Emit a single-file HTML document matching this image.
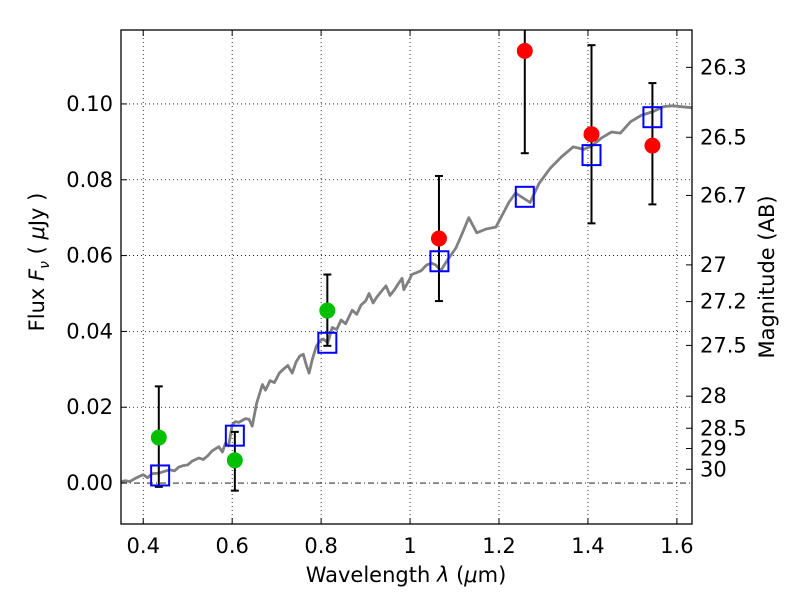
<!DOCTYPE html>
<html><head><meta charset="utf-8">
<style>
body{margin:0;background:#fff;}
svg{display:block;font-family:"DejaVu Sans","Liberation Sans",sans-serif;}
</style></head>
<body>
<svg id="chart" width="800" height="600" viewBox="0 0 800 600" xmlns="http://www.w3.org/2000/svg">
<defs><clipPath id="pc"><rect x="121" y="30" width="571" height="494"/></clipPath></defs>
<rect width="800" height="600" fill="#fff"/>
<g id="grid"></g>
<g id="spec" clip-path="url(#pc)"></g>
<g id="marks" clip-path="url(#pc)"></g>
<rect x="121" y="30" width="571" height="494" fill="none" stroke="#000" stroke-width="1.3"/>
<g id="ticks"></g>
<text x="406" y="582" font-size="21" text-anchor="middle">Wavelength  <tspan font-style="italic">λ</tspan> (<tspan font-style="italic">μ</tspan>m)</text>
<text transform="translate(44,262) rotate(-90)" font-size="21" text-anchor="middle">Flux  <tspan font-style="italic">F<tspan font-size="14" dy="5">ν</tspan></tspan><tspan dy="-5">  (  <tspan font-style="italic">μ</tspan>Jy )</tspan></text>
<text transform="translate(774,277) rotate(-90)" font-size="21" text-anchor="middle">Magnitude (AB)</text>
</svg>
<script>
const xTicks=[0.4,0.6,0.8,1.0,1.2,1.4,1.6];
const xTickLabels=["0.4","0.6","0.8","1","1.2","1.4","1.6"];
const yTicks=[0,0.02,0.04,0.06,0.08,0.10];
const yTickLabels=["0.00","0.02","0.04","0.06","0.08","0.10"];
const magTicks=[26.3,26.5,26.7,27,27.2,27.5,28,28.5,29,30];
const magLabels=["26.3","26.5","26.7","27","27.2","27.5","28","28.5","29","30"];
const obsWave=[0.435,0.606,0.814,1.065,1.258,1.408,1.545];
const obsFlux=[0.012,0.006,0.0455,0.0645,0.114,0.092,0.089];
const obsHi=[0.0255,0.0135,0.055,0.081,0.14,0.1155,0.1055];
const obsLo=[-0.001,-0.002,0.0362,0.048,0.087,0.0685,0.0735];
const obsColor=["#00c000","#00c000","#00c000","#ff0000","#ff0000","#ff0000","#ff0000"];
const modelWave=[0.438,0.606,0.814,1.066,1.258,1.408,1.545];
const modelFlux=[0.002,0.0125,0.037,0.0585,0.0755,0.0865,0.0965];
const specWave=[0.347,0.36,0.37,0.38,0.39,0.4,0.41,0.42,0.435,0.445,0.46,0.47,0.48,0.49,0.5,0.51,0.525,0.535,0.545,0.555,0.57,0.578,0.585,0.592,0.6,0.607,0.615,0.63,0.638,0.645,0.655,0.668,0.675,0.685,0.695,0.706,0.715,0.725,0.735,0.744,0.752,0.76,0.767,0.773,0.78,0.789,0.797,0.805,0.815,0.825,0.835,0.845,0.855,0.87,0.88,0.89,0.9,0.908,0.917,0.925,0.935,0.946,0.955,0.965,0.973,0.982,0.986,1.0,1.004,1.015,1.025,1.037,1.049,1.058,1.069,1.085,1.103,1.118,1.132,1.15,1.171,1.193,1.222,1.237,1.27,1.29,1.315,1.34,1.367,1.39,1.41,1.43,1.453,1.473,1.496,1.52,1.547,1.57,1.59,1.634];
const specFlux=[0.0003,0.0006,0.0004,0.0011,0.0017,0.0022,0.0014,0.0025,0.0026,0.003,0.0035,0.0032,0.0042,0.0046,0.0048,0.0058,0.0066,0.0062,0.0072,0.0085,0.0096,0.0082,0.0105,0.0098,0.0153,0.0162,0.016,0.017,0.0168,0.015,0.021,0.026,0.0245,0.027,0.0265,0.029,0.030,0.031,0.029,0.032,0.0335,0.034,0.031,0.029,0.0325,0.036,0.0375,0.038,0.037,0.041,0.0405,0.043,0.042,0.0456,0.0445,0.047,0.048,0.050,0.0475,0.049,0.0505,0.052,0.0495,0.051,0.0525,0.054,0.051,0.054,0.055,0.0555,0.056,0.0575,0.058,0.0575,0.056,0.059,0.062,0.066,0.070,0.066,0.067,0.0675,0.074,0.0765,0.074,0.079,0.083,0.086,0.0887,0.088,0.089,0.091,0.0926,0.0923,0.0953,0.097,0.098,0.0993,0.0995,0.099];
const X0=121,X1=692,Y0=524,Y1=30,xmin=0.35,xmax=1.634,ymin=-0.0108,ymax=0.1195;
const xs=v=>X0+(v-xmin)/(xmax-xmin)*(X1-X0);
const ys=v=>Y0-(v-ymin)/(ymax-ymin)*(Y0-Y1);
const NS="http://www.w3.org/2000/svg";
function mk(tag,attrs,parent){const e=document.createElementNS(NS,tag);for(const k in attrs)e.setAttribute(k,attrs[k]);document.getElementById(parent).appendChild(e);return e;}
xTicks.forEach((t,i)=>{
  const x=xs(t);
  const g=mk('line',{x1:x,x2:x,y1:Y1,y2:Y0,stroke:'#000','stroke-width':0.8,'stroke-dasharray':'1,3'},'grid');
  
  
  mk('line',{x1:x,x2:x,y1:Y0,y2:Y0-6,stroke:'#000'},'ticks');
  mk('line',{x1:x,x2:x,y1:Y1,y2:Y1+6,stroke:'#000'},'ticks');
  const l=mk('text',{x:x,y:Y0+29,'font-size':21,'text-anchor':'middle'},'ticks');
  l.textContent=xTickLabels[i];
  
  
});
yTicks.forEach((t,i)=>{
  const y=ys(t);
  const g=mk('line',{x1:X0,x2:X1,y1:y,y2:y,stroke:'#000','stroke-width':0.8,'stroke-dasharray':t===0?'6,3,1,3':'1,3'},'grid');
  
  
  mk('line',{x1:X0,x2:X0+6,y1:y,y2:y,stroke:'#000'},'ticks');
  const l=mk('text',{x:X0-8,y:y+7,'font-size':21,'text-anchor':'end'},'ticks');
  l.textContent=yTickLabels[i];
  
  
});
magTicks.forEach((m,i)=>{
  const y=ys(Math.pow(10,(23.9-m)/2.5));
  mk('line',{x1:X1,x2:X1-6,y1:y,y2:y,stroke:'#000'},'ticks');
  const l=mk('text',{x:X1+8,y:y+7,'font-size':21},'ticks');
  l.textContent=magLabels[i];
  
  
});
const pts=specWave.map((w,i)=>xs(w).toFixed(1)+','+ys(specFlux[i]).toFixed(1)).join(' ');
const sp=mk('polyline',{points:pts,fill:'none',stroke:'#808080','stroke-width':2.8,'stroke-linejoin':'round'},'spec');


obsWave.forEach((w,i)=>{
  const x=xs(w),yh=ys(obsHi[i]),yl=ys(obsLo[i]);
  const e=mk('line',{x1:x,x2:x,y1:yh,y2:yl,stroke:'#000','stroke-width':2},'marks');
  
  
  mk('line',{x1:x-4,x2:x+4,y1:yh,y2:yh,stroke:'#000','stroke-width':2},'marks');
  mk('line',{x1:x-4,x2:x+4,y1:yl,y2:yl,stroke:'#000','stroke-width':2},'marks');
});
modelWave.forEach((w,i)=>{
  const r=mk('rect',{x:xs(w)-9,y:ys(modelFlux[i])-10,width:18,height:20,fill:'none',stroke:'#0000ff','stroke-width':2},'marks');
  
  
});
obsWave.forEach((w,i)=>{
  const c=mk('ellipse',{cx:xs(w),cy:ys(obsFlux[i]),rx:8,ry:8,fill:obsColor[i]},'marks');
  
  
});
</script>
</body></html>
